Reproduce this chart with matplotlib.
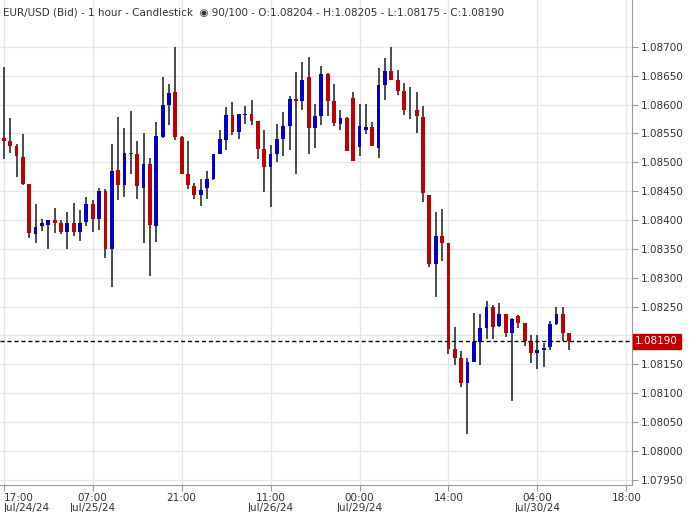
import matplotlib
matplotlib.use("Agg")
import matplotlib.pyplot as plt
from matplotlib.patches import Rectangle
import numpy as np

opens = [1.08542,1.08537,1.08528,1.08509,1.08463,1.08375,1.08389,1.08392,1.08400,1.08394,
         1.08380,1.08394,1.08380,1.08396,1.08427,1.08401,1.08450,1.08349,1.08486,1.08461,
         1.08516,1.08514,1.08456,1.08497,1.08389,1.08544,1.08599,1.08621,1.08544,1.08480,
         1.08459,1.08444,1.08456,1.08471,1.08515,1.08539,1.08582,1.08553,1.08582,1.08583,
         1.08571,1.08523,1.08492,1.08514,1.08540,1.08563,1.08609,1.08606,1.08647,1.08559,
         1.08580,1.08652,1.08606,1.08567,1.08576,1.08611,1.08527,1.08556,1.08561,1.08525,
         1.08634,1.08658,1.08642,1.08623,1.08590,1.08590,1.08578,1.08444,1.08323,1.08373,
         1.08360,1.08176,1.08161,1.08118,1.08154,1.08188,1.08213,1.08250,1.08217,1.08237,
         1.08204,1.08233,1.08221,1.08190,1.08170,1.08175,1.08180,1.08220,1.08238,1.08204]
highs = [1.08665,1.08576,1.08532,1.08549,1.08463,1.08427,1.08402,1.08400,1.08421,1.08400,
         1.08413,1.08429,1.08417,1.08440,1.08435,1.08456,1.08453,1.08532,1.08578,1.08559,
         1.08588,1.08536,1.08550,1.08507,1.08569,1.08647,1.08635,1.08699,1.08546,1.08536,
         1.08464,1.08471,1.08484,1.08514,1.08556,1.08595,1.08604,1.08583,1.08597,1.08607,
         1.08571,1.08556,1.08530,1.08566,1.08587,1.08615,1.08656,1.08673,1.08683,1.08601,
         1.08667,1.08654,1.08635,1.08590,1.08578,1.08621,1.08601,1.08601,1.08570,1.08664,
         1.08680,1.08699,1.08659,1.08638,1.08630,1.08621,1.08597,1.08444,1.08413,1.08419,
         1.08360,1.08214,1.08173,1.08161,1.08239,1.08237,1.08259,1.08252,1.08256,1.08237,
         1.08230,1.08235,1.08221,1.08200,1.08200,1.08187,1.08225,1.08250,1.08250,1.08205]
lows = [1.08506,1.08516,1.08475,1.08460,1.08368,1.08360,1.08381,1.08349,1.08378,1.08375,
        1.08349,1.08373,1.08363,1.08389,1.08379,1.08383,1.08335,1.08284,1.08434,1.08439,
        1.08480,1.08437,1.08361,1.08303,1.08362,1.08542,1.08565,1.08539,1.08480,1.08454,
        1.08436,1.08425,1.08437,1.08470,1.08515,1.08521,1.08548,1.08541,1.08567,1.08565,
        1.08506,1.08449,1.08422,1.08501,1.08510,1.08522,1.08480,1.08591,1.08514,1.08525,
        1.08565,1.08580,1.08563,1.08555,1.08520,1.08503,1.08510,1.08549,1.08529,1.08508,
        1.08608,1.08643,1.08617,1.08582,1.08575,1.08551,1.08432,1.08318,1.08266,1.08329,
        1.08168,1.08149,1.08110,1.08029,1.08154,1.08149,1.08194,1.08194,1.08214,1.08198,
        1.08087,1.08213,1.08182,1.08153,1.08142,1.08146,1.08175,1.08218,1.08190,1.08175]
closes = [1.08537,1.08529,1.08510,1.08463,1.08377,1.08388,1.08394,1.08400,1.08394,1.08380,
          1.08394,1.08380,1.08395,1.08427,1.08401,1.08450,1.08349,1.08484,1.08461,1.08516,
          1.08515,1.08458,1.08497,1.08392,1.08545,1.08599,1.08620,1.08544,1.08480,1.08460,
          1.08444,1.08452,1.08471,1.08514,1.08540,1.08582,1.08553,1.08583,1.08583,1.08572,
          1.08523,1.08492,1.08514,1.08540,1.08563,1.08609,1.08606,1.08642,1.08559,1.08580,
          1.08652,1.08606,1.08568,1.08576,1.08520,1.08503,1.08563,1.08561,1.08529,1.08633,
          1.08658,1.08643,1.08624,1.08591,1.08590,1.08580,1.08446,1.08323,1.08373,1.08360,
          1.08177,1.08161,1.08117,1.08154,1.08188,1.08213,1.08250,1.08214,1.08237,1.08204,
          1.08228,1.08221,1.08190,1.08170,1.08175,1.08179,1.08219,1.08238,1.08204,1.08190]

tick_pos = [0, 14, 28, 42, 56, 70, 84, 98]
tick_labels = ["17:00\nJul/24/24", "07:00\nJul/25/24", "21:00", "11:00\nJul/26/24",
               "00:00\nJul/29/24", "14:00", "04:00\nJul/30/24", "18:00"]
last_price = 1.08190
title = "EUR/USD (Bid) - 1 hour - Candlestick  \u25c9 90/100 - O:1.08204 - H:1.08205 - L:1.08175 - C:1.08190"

fig = plt.figure(figsize=(6.91, 5.12), dpi=100)
ax = fig.add_axes([0, 1 - 485/512, 632/691, 485/512])
ax.set_xlim(-0.6, 98.9)
ax.set_ylim(1.07941, 1.08781)
yt = np.round(np.arange(1.0795, 1.08701, 0.0005), 5)
ax.set_yticks(yt)
# the 1.08200 label is hidden behind the last-price marker in the reference
ax.set_yticklabels(["" if abs(v - 1.082) < 1e-7 else f"{v:.5f}" for v in yt], fontsize=7.5, color="#333")
ax.yaxis.tick_right()
ax.set_xticks(tick_pos)
ax.set_xticklabels(tick_labels, fontsize=7.5, color="#333", linespacing=1.0)
ax.tick_params(axis="both", length=4, color="#999", pad=2)
ax.grid(True, color="#e6e6e6", lw=1)
ax.set_axisbelow(True)
for s in ["top", "left"]:
    ax.spines[s].set_visible(False)
for s in ["right", "bottom"]:
    ax.spines[s].set_color("#999")

w = 0.6
for i, (o, h, l, c) in enumerate(zip(opens, highs, lows, closes)):
    col = "#0000c8" if c > o else "#c00000"
    ax.vlines(i, l, h, color="#2a2e33", lw=1.2, zorder=2)
    lo, hi = min(o, c), max(o, c)
    ax.add_patch(Rectangle((i - w/2, lo), w, max(hi - lo, 0.000008), color=col, zorder=3, lw=0))

ax.axhline(last_price, color="black", ls=(0, (3, 2)), lw=1, zorder=4)
ax.text(1.005, last_price, f"{last_price:.5f}", transform=ax.get_yaxis_transform(),
        va="center", ha="left", fontsize=7.5, color="white", zorder=6,
        bbox=dict(boxstyle="square,pad=0.25", fc="#c00000", ec="#c00000"), clip_on=False)
ax.text(0.005, 0.985, title, transform=ax.transAxes, fontsize=7.5, color="#333", va="top", ha="left")
lbls = ax.get_xticklabels()
lbls[0].set_ha("left")
fig.savefig("out.png", dpi=100)
